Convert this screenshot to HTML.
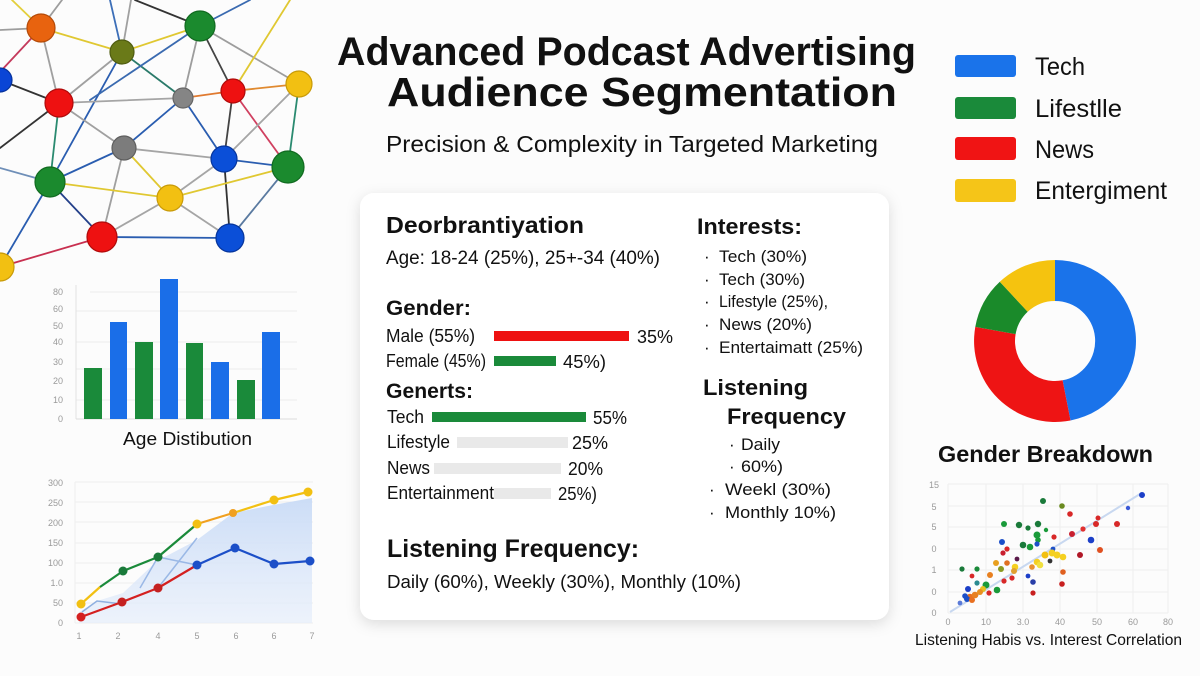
<!DOCTYPE html>
<html>
<head>
<meta charset="utf-8">
<style>
html,body{margin:0;padding:0;background:#fcfcfc;}
svg{display:block;}
text{font-family:"Liberation Sans",sans-serif;fill:#111;}
.b{font-weight:bold;}
.ax{fill:#9a9a9a;font-size:9px;}
</style>
</head>
<body>
<svg width="1200" height="676" viewBox="0 0 1200 676" xmlns="http://www.w3.org/2000/svg">
<defs>
<filter id="sh" x="-10%" y="-10%" width="120%" height="125%">
<feDropShadow dx="0" dy="4" stdDeviation="7" flood-color="#000" flood-opacity="0.13"/>
</filter>
<linearGradient id="ag" x1="0" y1="0" x2="0" y2="1">
<stop offset="0" stop-color="#c9dbf6" stop-opacity="0.95"/>
<stop offset="1" stop-color="#e6eefb" stop-opacity="0.7"/>
</linearGradient>
</defs>
<rect width="1200" height="676" fill="#fcfcfc"/>

<!-- NETWORK -->
<g stroke-width="1.8" fill="none" stroke-linecap="round">
<line x1="41" y1="28" x2="12" y2="0" stroke="#e3cf3c"/>
<line x1="41" y1="28" x2="62" y2="0" stroke="#9d9d9d"/>
<line x1="41" y1="28" x2="0" y2="30" stroke="#9d9d9d"/>
<line x1="41" y1="28" x2="122" y2="52" stroke="#e0c832"/>
<line x1="41" y1="28" x2="59" y2="103" stroke="#a0a0a0"/>
<line x1="41" y1="28" x2="0" y2="72" stroke="#c43a5c"/>
<line x1="122" y1="52" x2="110" y2="0" stroke="#3d6fb8"/>
<line x1="122" y1="52" x2="131" y2="0" stroke="#a0a0a0"/>
<line x1="122" y1="52" x2="200" y2="26" stroke="#e0c832"/>
<line x1="122" y1="52" x2="183" y2="98" stroke="#2a7a6a"/>
<line x1="122" y1="52" x2="59" y2="103" stroke="#a0a0a0"/>
<line x1="122" y1="52" x2="50" y2="182" stroke="#2a5db0"/>
<line x1="200" y1="26" x2="135" y2="0" stroke="#333"/>
<line x1="200" y1="26" x2="250" y2="0" stroke="#3a6ab0"/>
<line x1="200" y1="26" x2="183" y2="98" stroke="#9d9d9d"/>
<line x1="200" y1="26" x2="233" y2="91" stroke="#444"/>
<line x1="200" y1="26" x2="299" y2="84" stroke="#9d9d9d"/>
<line x1="200" y1="26" x2="90" y2="100" stroke="#3a6ab0"/>
<line x1="290" y1="0" x2="233" y2="91" stroke="#e0c832"/>
<line x1="0" y1="80" x2="59" y2="103" stroke="#333"/>
<line x1="59" y1="103" x2="183" y2="98" stroke="#a5a5a5"/>
<line x1="59" y1="103" x2="124" y2="148" stroke="#a0a0a0"/>
<line x1="59" y1="103" x2="50" y2="182" stroke="#2a8a70"/>
<line x1="59" y1="103" x2="0" y2="148" stroke="#333"/>
<line x1="183" y1="98" x2="233" y2="91" stroke="#e07a30"/>
<line x1="183" y1="98" x2="224" y2="159" stroke="#2a5db0"/>
<line x1="183" y1="98" x2="124" y2="148" stroke="#2a5db0"/>
<line x1="233" y1="91" x2="299" y2="84" stroke="#e08a30"/>
<line x1="233" y1="91" x2="224" y2="159" stroke="#444"/>
<line x1="233" y1="91" x2="288" y2="167" stroke="#d04060"/>
<line x1="299" y1="84" x2="224" y2="159" stroke="#a5a5a5"/>
<line x1="299" y1="84" x2="288" y2="167" stroke="#2a8a70"/>
<line x1="124" y1="148" x2="224" y2="159" stroke="#a5a5a5"/>
<line x1="124" y1="148" x2="50" y2="182" stroke="#2a5db0"/>
<line x1="124" y1="148" x2="170" y2="198" stroke="#e0c832"/>
<line x1="124" y1="148" x2="102" y2="237" stroke="#a0a0a0"/>
<line x1="224" y1="159" x2="288" y2="167" stroke="#2a5db0"/>
<line x1="224" y1="159" x2="170" y2="198" stroke="#a5a5a5"/>
<line x1="224" y1="159" x2="230" y2="238" stroke="#333"/>
<line x1="288" y1="167" x2="170" y2="198" stroke="#e0c832"/>
<line x1="288" y1="167" x2="230" y2="238" stroke="#5a7aa0"/>
<line x1="50" y1="182" x2="0" y2="168" stroke="#6f8fb8"/>
<line x1="50" y1="182" x2="170" y2="198" stroke="#e0c832"/>
<line x1="50" y1="182" x2="102" y2="237" stroke="#24408a"/>
<line x1="50" y1="182" x2="0" y2="267" stroke="#2a5db0"/>
<line x1="170" y1="198" x2="102" y2="237" stroke="#a5a5a5"/>
<line x1="170" y1="198" x2="230" y2="238" stroke="#a5a5a5"/>
<line x1="102" y1="237" x2="230" y2="238" stroke="#2a5db0"/>
<line x1="102" y1="237" x2="0" y2="267" stroke="#c83050"/>
</g>
<g stroke-width="1.2">
<circle cx="41" cy="28" r="14" fill="#e8630f" stroke="#b44a08"/>
<circle cx="122" cy="52" r="12" fill="#6a7a18" stroke="#4f5c10"/>
<circle cx="200" cy="26" r="15" fill="#1b8a2e" stroke="#116a20"/>
<circle cx="0" cy="80" r="12" fill="#0a45d6" stroke="#06329c"/>
<circle cx="59" cy="103" r="14" fill="#ee1111" stroke="#b00a0a"/>
<circle cx="183" cy="98" r="10" fill="#858585" stroke="#666"/>
<circle cx="233" cy="91" r="12" fill="#ee1111" stroke="#b00a0a"/>
<circle cx="299" cy="84" r="13" fill="#f2c012" stroke="#c89a08"/>
<circle cx="124" cy="148" r="12" fill="#7c7c7c" stroke="#5e5e5e"/>
<circle cx="224" cy="159" r="13" fill="#0b4fd8" stroke="#06359c"/>
<circle cx="288" cy="167" r="16" fill="#1b8a2e" stroke="#116a20"/>
<circle cx="50" cy="182" r="15" fill="#1b8a2e" stroke="#116a20"/>
<circle cx="170" cy="198" r="13" fill="#f2c012" stroke="#c89a08"/>
<circle cx="102" cy="237" r="15" fill="#ee1111" stroke="#b00a0a"/>
<circle cx="230" cy="238" r="14" fill="#0b4fd8" stroke="#06359c"/>
<circle cx="0" cy="267" r="14" fill="#f2c012" stroke="#c89a08"/>
</g>

<!-- BAR CHART -->
<g stroke="#ececec" stroke-width="1">
<line x1="90" y1="292" x2="297" y2="292"/>
<line x1="76" y1="311" x2="297" y2="311"/>
<line x1="76" y1="342" x2="297" y2="342"/>
<line x1="76" y1="369" x2="297" y2="369"/>
<line x1="76" y1="400" x2="297" y2="400"/>
</g>
<line x1="76" y1="285" x2="76" y2="419" stroke="#e2e2e2" stroke-width="1"/>
<line x1="76" y1="419" x2="297" y2="419" stroke="#dcdcdc" stroke-width="1"/>
<g class="ax" text-anchor="end">
<text x="63" y="295" class="ax">80</text>
<text x="63" y="312" class="ax">60</text>
<text x="63" y="329" class="ax">50</text>
<text x="63" y="345" class="ax">40</text>
<text x="63" y="365" class="ax">30</text>
<text x="63" y="384" class="ax">20</text>
<text x="63" y="403" class="ax">10</text>
<text x="63" y="422" class="ax">0</text>
</g>
<rect x="84" y="368" width="18" height="51" fill="#1a8a3a"/>
<rect x="110" y="322" width="17" height="97" fill="#1a6ee8"/>
<rect x="135" y="342" width="18" height="77" fill="#1a8a3a"/>
<rect x="160" y="279" width="18" height="140" fill="#1a6ee8"/>
<rect x="186" y="343" width="17" height="76" fill="#1a8a3a"/>
<rect x="211" y="362" width="18" height="57" fill="#1a6ee8"/>
<rect x="237" y="380" width="18" height="39" fill="#1a8a3a"/>
<rect x="262" y="332" width="18" height="87" fill="#1a6ee8"/>
<text x="123" y="445" font-size="18" textLength="129" lengthAdjust="spacingAndGlyphs">Age Distibution</text>

<!-- LINE CHART -->
<g stroke="#eeeeee" stroke-width="1">
<line x1="75" y1="482" x2="313" y2="482"/>
<line x1="75" y1="502" x2="313" y2="502"/>
<line x1="75" y1="522" x2="313" y2="522"/>
<line x1="75" y1="543" x2="313" y2="543"/>
<line x1="75" y1="563" x2="313" y2="563"/>
<line x1="75" y1="583" x2="313" y2="583"/>
<line x1="75" y1="603" x2="313" y2="603"/>
<line x1="75" y1="623" x2="313" y2="623"/>
<line x1="75" y1="482" x2="75" y2="623"/>
</g>
<g class="ax" text-anchor="end">
<text x="63" y="486" class="ax">300</text>
<text x="63" y="506" class="ax">250</text>
<text x="63" y="526" class="ax">200</text>
<text x="63" y="546" class="ax">150</text>
<text x="63" y="566" class="ax">100</text>
<text x="63" y="586" class="ax">1.0</text>
<text x="63" y="606" class="ax">50</text>
<text x="63" y="626" class="ax">0</text>
</g>
<g class="ax" text-anchor="middle">
<text x="79" y="639" class="ax">1</text>
<text x="118" y="639" class="ax">2</text>
<text x="158" y="639" class="ax">4</text>
<text x="197" y="639" class="ax">5</text>
<text x="236" y="639" class="ax">6</text>
<text x="274" y="639" class="ax">6</text>
<text x="312" y="639" class="ax">7</text>
</g>
<polygon points="79,623 79,612 97,601 123,593 157,561 197,540 233,513 273,505 312,498 312,623" fill="url(#ag)"/>
<polyline points="82,612 97,601 122,604" fill="none" stroke="#8fb0e0" stroke-width="1.5"/>
<polyline points="140,588 158,557 197,565" fill="none" stroke="#9ab8e6" stroke-width="1.5"/>
<polyline points="158,588 197,538" fill="none" stroke="#9ab8e6" stroke-width="1.5"/>
<g fill="none" stroke-width="2.2" stroke-linejoin="round">
<polyline points="81,604 100,587" stroke="#f2c012"/>
<polyline points="100,587 123,571 158,557 197,524" stroke="#1a8a3a"/>
<polyline points="197,524 233,513" stroke="#f0a020"/>
<polyline points="233,513 274,500 308,492" stroke="#f2c012"/>
<polyline points="81,617 122,602 158,588 197,565" stroke="#d42020"/>
<polyline points="197,565 235,548 274,564 310,561" stroke="#1c4fc8"/>
</g>
<g>
<circle cx="81" cy="604" r="4.5" fill="#f2c012"/>
<circle cx="123" cy="571" r="4.5" fill="#1a7a3a"/>
<circle cx="158" cy="557" r="4.5" fill="#1a7a3a"/>
<circle cx="197" cy="524" r="4.5" fill="#f2c012"/>
<circle cx="233" cy="513" r="4" fill="#f0a020"/>
<circle cx="274" cy="500" r="4.5" fill="#f2c012"/>
<circle cx="308" cy="492" r="4.5" fill="#f2c012"/>
<circle cx="81" cy="617" r="4.5" fill="#d42020"/>
<circle cx="122" cy="602" r="4.5" fill="#c42020"/>
<circle cx="158" cy="588" r="4.5" fill="#c42020"/>
<circle cx="197" cy="565" r="4.5" fill="#1c4fc8"/>
<circle cx="235" cy="548" r="4.5" fill="#1c4fc8"/>
<circle cx="274" cy="564" r="4.5" fill="#1c4fc8"/>
<circle cx="310" cy="561" r="4.5" fill="#1c4fc8"/>
</g>

<!-- TITLE -->
<text x="337" y="65" font-size="40" class="b" textLength="579" lengthAdjust="spacingAndGlyphs">Advanced Podcast Advertising</text>
<text x="387" y="106" font-size="41" class="b" textLength="510" lengthAdjust="spacingAndGlyphs">Audience Segmentation</text>
<text x="386" y="152" font-size="23" textLength="492" lengthAdjust="spacingAndGlyphs">Precision &amp; Complexity in Targeted Marketing</text>

<!-- LEGEND -->
<rect x="955" y="55" width="61" height="22" rx="3" fill="#1a73ea"/>
<rect x="955" y="97" width="61" height="22" rx="3" fill="#1a8a3a"/>
<rect x="955" y="137" width="61" height="23" rx="3" fill="#f01414"/>
<rect x="955" y="179" width="61" height="23" rx="3" fill="#f5c518"/>
<text x="1035" y="75" font-size="25" textLength="50" lengthAdjust="spacingAndGlyphs">Tech</text>
<text x="1035" y="117" font-size="25" textLength="87" lengthAdjust="spacingAndGlyphs">Lifestlle</text>
<text x="1035" y="158" font-size="25" textLength="59" lengthAdjust="spacingAndGlyphs">News</text>
<text x="1035" y="199" font-size="25" textLength="132" lengthAdjust="spacingAndGlyphs">Entergiment</text>

<!-- CARD -->
<rect x="360" y="193" width="529" height="427" rx="14" fill="#ffffff" filter="url(#sh)"/>
<text x="386" y="233" font-size="23" class="b" textLength="198" lengthAdjust="spacingAndGlyphs">Deorbrantiyation</text>
<text x="386" y="264" font-size="19" textLength="274" lengthAdjust="spacingAndGlyphs">Age: 18-24 (25%), 25+-34 (40%)</text>
<text x="386" y="315" font-size="21" class="b" textLength="85" lengthAdjust="spacingAndGlyphs">Gender:</text>
<text x="386" y="342" font-size="18" textLength="89" lengthAdjust="spacingAndGlyphs">Male (55%)</text>
<rect x="494" y="331" width="135" height="10" fill="#ee1111"/>
<text x="637" y="343" font-size="18" textLength="36" lengthAdjust="spacingAndGlyphs">35%</text>
<text x="386" y="367" font-size="18" textLength="100" lengthAdjust="spacingAndGlyphs">Female (45%)</text>
<rect x="494" y="356" width="62" height="10" fill="#1a8a3a"/>
<text x="563" y="368" font-size="18" textLength="43" lengthAdjust="spacingAndGlyphs">45%)</text>
<text x="386" y="398" font-size="21" class="b" textLength="87" lengthAdjust="spacingAndGlyphs">Generts:</text>
<text x="387" y="423" font-size="18" textLength="37" lengthAdjust="spacingAndGlyphs">Tech</text>
<rect x="432" y="412" width="154" height="10" fill="#1a8a3a"/>
<text x="593" y="424" font-size="18" textLength="34" lengthAdjust="spacingAndGlyphs">55%</text>
<text x="387" y="448" font-size="18" textLength="63" lengthAdjust="spacingAndGlyphs">Lifestyle</text>
<rect x="457" y="437" width="111" height="11" fill="#e9e9e9"/>
<text x="572" y="449" font-size="18" textLength="36" lengthAdjust="spacingAndGlyphs">25%</text>
<text x="387" y="474" font-size="18" textLength="43" lengthAdjust="spacingAndGlyphs">News</text>
<rect x="434" y="463" width="127" height="11" fill="#e9e9e9"/>
<text x="568" y="475" font-size="18" textLength="35" lengthAdjust="spacingAndGlyphs">20%</text>
<text x="387" y="499" font-size="18" textLength="107" lengthAdjust="spacingAndGlyphs">Entertainment</text>
<rect x="494" y="488" width="57" height="11" fill="#e9e9e9"/>
<text x="558" y="500" font-size="18" textLength="39" lengthAdjust="spacingAndGlyphs">25%)</text>
<text x="387" y="557" font-size="25" class="b" textLength="252" lengthAdjust="spacingAndGlyphs">Listening Frequency:</text>
<text x="387" y="588" font-size="18" textLength="354" lengthAdjust="spacingAndGlyphs">Daily (60%), Weekly (30%), Monthly (10%)</text>

<text x="697" y="234" font-size="22" class="b" textLength="105" lengthAdjust="spacingAndGlyphs">Interests:</text>
<g font-size="17">
<text x="704" y="262">·</text>
<text x="719" y="262" font-size="17" textLength="88" lengthAdjust="spacingAndGlyphs">Tech (30%)</text>
<text x="704" y="285">·</text>
<text x="719" y="285" font-size="17" textLength="86" lengthAdjust="spacingAndGlyphs">Tech (30%)</text>
<text x="704" y="307">·</text>
<text x="719" y="307" font-size="17" textLength="109" lengthAdjust="spacingAndGlyphs">Lifestyle (25%),</text>
<text x="704" y="330">·</text>
<text x="719" y="330" font-size="17" textLength="93" lengthAdjust="spacingAndGlyphs">News (20%)</text>
<text x="704" y="353">·</text>
<text x="719" y="353" font-size="17" textLength="144" lengthAdjust="spacingAndGlyphs">Entertaimatt (25%)</text>
</g>
<text x="703" y="395" font-size="22" class="b" textLength="105" lengthAdjust="spacingAndGlyphs">Listening</text>
<text x="727" y="424" font-size="22" class="b" textLength="119" lengthAdjust="spacingAndGlyphs">Frequency</text>
<g font-size="17">
<text x="729" y="450">·</text>
<text x="741" y="450" font-size="17" textLength="39" lengthAdjust="spacingAndGlyphs">Daily</text>
<text x="729" y="472">·</text>
<text x="741" y="472" font-size="17" textLength="42" lengthAdjust="spacingAndGlyphs">60%)</text>
<text x="709" y="495">·</text>
<text x="725" y="495" font-size="17" textLength="106" lengthAdjust="spacingAndGlyphs">Weekl (30%)</text>
<text x="709" y="518">·</text>
<text x="725" y="518" font-size="17" textLength="111" lengthAdjust="spacingAndGlyphs">Monthly 10%)</text>
</g>

<!-- DONUT -->
<g transform="translate(1055,341)">
<path d="M0,-81 A81,81 0 0 1 15.5,79.5 L7.6,39.3 A40,40 0 0 0 0,-40 Z" fill="#1a73ea"/>
<path d="M15.5,79.5 A81,81 0 0 1 -79.7,-14.1 L-39.4,-6.9 A40,40 0 0 0 7.6,39.3 Z" fill="#ee1414"/>
<path d="M-79.7,-14.1 A81,81 0 0 1 -55.2,-59.2 L-27.3,-29.2 A40,40 0 0 0 -39.4,-6.9 Z" fill="#1a8a2a"/>
<path d="M-55.2,-59.2 A81,81 0 0 1 0,-81 L0,-40 A40,40 0 0 0 -27.3,-29.2 Z" fill="#f5c30f"/>
</g>
<text x="938" y="462" font-size="23" class="b" textLength="215" lengthAdjust="spacingAndGlyphs">Gender Breakdown</text>

<!-- SCATTER -->
<g stroke="#eeeeee" stroke-width="1">
<line x1="948" y1="484" x2="1168" y2="484"/>
<line x1="948" y1="506" x2="1168" y2="506"/>
<line x1="948" y1="527" x2="1168" y2="527"/>
<line x1="948" y1="549" x2="1168" y2="549"/>
<line x1="948" y1="570" x2="1168" y2="570"/>
<line x1="948" y1="592" x2="1168" y2="592"/>
<line x1="948" y1="613" x2="1168" y2="613"/>
<line x1="948" y1="484" x2="948" y2="613"/>
<line x1="986" y1="484" x2="986" y2="613"/>
<line x1="1023" y1="484" x2="1023" y2="613"/>
<line x1="1060" y1="484" x2="1060" y2="613"/>
<line x1="1097" y1="484" x2="1097" y2="613"/>
<line x1="1133" y1="484" x2="1133" y2="613"/>
<line x1="1168" y1="484" x2="1168" y2="613"/>
</g>
<g class="ax" text-anchor="middle">
<text x="934" y="488" class="ax">15</text>
<text x="934" y="510" class="ax">5</text>
<text x="934" y="530" class="ax">5</text>
<text x="934" y="552" class="ax">0</text>
<text x="934" y="573" class="ax">1</text>
<text x="934" y="595" class="ax">0</text>
<text x="934" y="616" class="ax">0</text>
<text x="948" y="625" class="ax">0</text>
<text x="986" y="625" class="ax">10</text>
<text x="1023" y="625" class="ax">3.0</text>
<text x="1060" y="625" class="ax">40</text>
<text x="1097" y="625" class="ax">50</text>
<text x="1133" y="625" class="ax">60</text>
<text x="1168" y="625" class="ax">80</text>
</g>
<line x1="950" y1="612" x2="1140" y2="494" stroke="#c8d8f0" stroke-width="2"/>
<g>
<circle cx="1142" cy="495" r="3" fill="#1c3fc8"/>
<circle cx="1128" cy="508" r="2.2" fill="#3a5ad8"/>
<circle cx="1043" cy="501" r="3" fill="#1a7a3a"/>
<circle cx="1062" cy="506" r="2.8" fill="#6a8a20"/>
<circle cx="1070" cy="514" r="2.8" fill="#d82828"/>
<circle cx="1098" cy="518" r="2.5" fill="#d82828"/>
<circle cx="1096" cy="524" r="3" fill="#d82828"/>
<circle cx="1117" cy="524" r="3" fill="#d82828"/>
<circle cx="1083" cy="529" r="2.6" fill="#e03030"/>
<circle cx="1072" cy="534" r="3" fill="#c82030"/>
<circle cx="1091" cy="540" r="3.3" fill="#1c3fc8"/>
<circle cx="1100" cy="550" r="3" fill="#e05020"/>
<circle cx="1080" cy="555" r="3" fill="#b01828"/>
<circle cx="1004" cy="524" r="3" fill="#1a9a3a"/>
<circle cx="1019" cy="525" r="3.2" fill="#1a7a3a"/>
<circle cx="1038" cy="524" r="3.2" fill="#1a7a3a"/>
<circle cx="1028" cy="528" r="2.6" fill="#1a7a3a"/>
<circle cx="1046" cy="530" r="2.2" fill="#1a9a3a"/>
<circle cx="1037" cy="535" r="3.5" fill="#1a9a3a"/>
<circle cx="1038" cy="540" r="2.8" fill="#1a9a3a"/>
<circle cx="1054" cy="537" r="2.6" fill="#d82828"/>
<circle cx="1002" cy="542" r="3" fill="#1c4fc8"/>
<circle cx="1023" cy="545" r="3.3" fill="#1a7a3a"/>
<circle cx="1030" cy="547" r="3.3" fill="#1a9a3a"/>
<circle cx="1037" cy="544" r="2.6" fill="#1c4fc8"/>
<circle cx="1053" cy="549" r="2.4" fill="#1c4fc8"/>
<circle cx="1007" cy="549" r="2.6" fill="#d82828"/>
<circle cx="1003" cy="553" r="2.6" fill="#c82030"/>
<circle cx="1045" cy="555" r="3.5" fill="#f2c012"/>
<circle cx="1052" cy="553" r="3.5" fill="#f5d020"/>
<circle cx="1057" cy="555" r="3.5" fill="#f5d020"/>
<circle cx="1063" cy="557" r="3.3" fill="#f5d020"/>
<circle cx="1037" cy="562" r="3.3" fill="#f5d020"/>
<circle cx="1040" cy="565" r="3.3" fill="#f0e040"/>
<circle cx="1017" cy="559" r="2.4" fill="#5a1a4a"/>
<circle cx="1015" cy="567" r="3.3" fill="#f5d020"/>
<circle cx="996" cy="563" r="3" fill="#e8a020"/>
<circle cx="1007" cy="563" r="2.8" fill="#e07020"/>
<circle cx="1001" cy="569" r="3" fill="#8a9a20"/>
<circle cx="962" cy="569" r="2.6" fill="#1a7a3a"/>
<circle cx="977" cy="569" r="2.6" fill="#1a8a3a"/>
<circle cx="1050" cy="561" r="2.4" fill="#333"/>
<circle cx="1063" cy="572" r="2.8" fill="#e06020"/>
<circle cx="1032" cy="567" r="2.8" fill="#e89030"/>
<circle cx="1014" cy="571" r="3" fill="#e0a030"/>
<circle cx="990" cy="575" r="3" fill="#e88020"/>
<circle cx="972" cy="576" r="2.4" fill="#d82828"/>
<circle cx="1012" cy="578" r="2.6" fill="#d82828"/>
<circle cx="1004" cy="581" r="2.6" fill="#d82828"/>
<circle cx="1028" cy="576" r="2.4" fill="#1c3fc8"/>
<circle cx="1033" cy="582" r="2.8" fill="#2a3fa8"/>
<circle cx="1062" cy="584" r="2.8" fill="#c82020"/>
<circle cx="977" cy="583" r="2.6" fill="#2a8a90"/>
<circle cx="986" cy="585" r="3.5" fill="#1a9a3a"/>
<circle cx="997" cy="590" r="3.3" fill="#1a9a3a"/>
<circle cx="968" cy="589" r="3" fill="#1c3fc8"/>
<circle cx="983" cy="589" r="3" fill="#e8c020"/>
<circle cx="989" cy="593" r="2.6" fill="#d82828"/>
<circle cx="1033" cy="593" r="2.6" fill="#c82020"/>
<circle cx="970" cy="597" r="3.3" fill="#e87020"/>
<circle cx="975" cy="595" r="3.3" fill="#e88020"/>
<circle cx="967" cy="599" r="3" fill="#1c4fc8"/>
<circle cx="980" cy="592" r="3" fill="#e89020"/>
<circle cx="972" cy="600" r="3" fill="#e87020"/>
<circle cx="965" cy="596" r="2.8" fill="#1c4fc8"/>
<circle cx="960" cy="603" r="2.4" fill="#5a7ad8"/>
</g>
<text x="915" y="645" font-size="16" textLength="267" lengthAdjust="spacingAndGlyphs">Listening Habis vs. Interest Correlation</text>
</svg>
</body>
</html>
